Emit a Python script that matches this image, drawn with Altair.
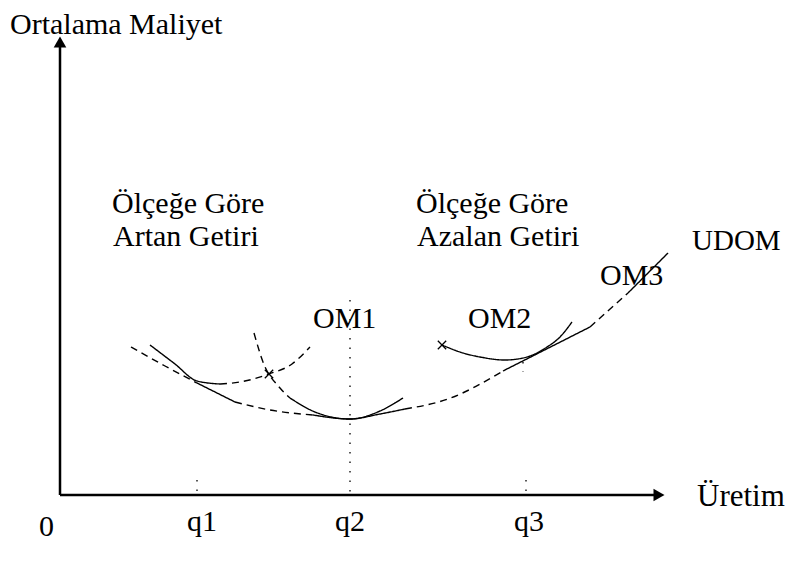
import altair as alt
import pandas as pd

# ---- data (drawing units: x = output position, y = cost position on the sheet, growing downward)
udom_x = [131, 165, 197, 235, 270, 313, 350, 380, 405, 448, 503, 590, 628, 668]
udom_y = [347, 366, 383, 402, 410, 415, 419, 414, 409, 399, 371, 327, 293, 253]
udom_s = ["dash", "dash", "solid", "dash", "dash", "solid", "solid", "solid", "dash", "dash", "solid", "dash", "solid"]

om1a_x = [150, 175, 197, 220, 240, 269, 292, 310]
om1a_y = [345, 364, 381, 384, 382, 374, 364, 347]
om1a_s = ["solid", "solid", "solid", "dash", "dash", "dash", "dash"]

om1b_x = [254, 263, 280, 290, 315, 350, 380, 403]
om1b_y = [333, 362, 388, 398, 412, 419, 411, 398]
om1b_s = ["dash", "dash", "dash", "solid", "solid", "solid", "solid"]

om2_x = [442, 463, 480, 505, 527, 547, 560, 572]
om2_y = [345, 353, 357, 360, 357, 347, 337, 322]
om2_s = ["solid"] * 7

cross_x = [269, 442]
cross_y = [374, 345]

guide_x = [350, 197, 526, 523]
guide_y1 = [300, 480, 480, 362]
guide_y2 = [495, 495, 495, 372]

axis_x0, axis_y0 = 60, 495
axis_xend, axis_ytop = 655, 46

labels = ["Ortalama Maliyet", "Ölçeğe Göre", "Artan Getiri", "Ölçeğe Göre", "Azalan Getiri",
          "UDOM", "OM3", "OM1", "OM2", "Üretim", "0", "q1", "q2", "q3"]
label_x = [10, 112, 113, 416, 417, 692, 600, 313, 468, 697, 39, 187, 335, 514]
label_y = [34, 213, 246, 213, 246, 250, 285, 328, 328, 506, 536, 531, 531, 531]
label_size = [30, 30, 30, 30, 30, 29, 30, 30, 30, 31, 30, 30, 30, 30]

SERIF = "Liberation Serif, Times New Roman, Tinos, DejaVu Serif, serif"

# ---- build tables
rows = []
def add_curve(name, xs, ys, ss):
    run = 0
    for i in range(len(xs) - 1):
        if i > 0 and ss[i] != ss[i - 1]:
            run += 1
        rows.append(dict(seg=f"{name}-{run}", style=ss[i], x=xs[i], y=ys[i], o=i))
        rows.append(dict(seg=f"{name}-{run}", style=ss[i], x=xs[i + 1], y=ys[i + 1], o=i + 1))

add_curve("udom", udom_x, udom_y, udom_s)
add_curve("om1a", om1a_x, om1a_y, om1a_s)
add_curve("om1b", om1b_x, om1b_y, om1b_s)
add_curve("om2", om2_x, om2_y, om2_s)
curves = pd.DataFrame(rows).drop_duplicates(subset=["seg", "o"])

xs = alt.Scale(domain=[8, 788], nice=False, zero=False)
ys = alt.Scale(domain=[8, 556], nice=False, zero=False, reverse=True)
X = lambda f: alt.X(f, type="quantitative", scale=xs, axis=None)
Y = lambda f: alt.Y(f, type="quantitative", scale=ys, axis=None)

curve_layer = alt.Chart(curves).mark_line(color="black", strokeWidth=1.4, interpolate="monotone").encode(
    x=X("x"), y=Y("y"), detail="seg:N", order="o:Q",
    strokeDash=alt.StrokeDash("style:N", scale=alt.Scale(domain=["solid", "dash"], range=[[1, 0], [7, 5]]), legend=None),
)

axes_df = pd.DataFrame(dict(x=[axis_x0, axis_x0], y=[axis_y0, axis_y0], x2=[axis_xend, axis_x0], y2=[axis_y0, axis_ytop]))
axes_layer = alt.Chart(axes_df).mark_rule(color="black", strokeWidth=2.5).encode(
    x=X("x"), y=Y("y"), x2="x2", y2="y2")

arrows_df = pd.DataFrame(dict(x=[axis_x0, axis_xend + 4], y=[axis_ytop - 4, axis_y0], shape=["triangle-up", "triangle-right"]))
arrow_layer = alt.Chart(arrows_df).mark_point(filled=True, color="black", opacity=1, size=160).encode(
    x=X("x"), y=Y("y"), shape=alt.Shape("shape:N", scale=None))

guides_df = pd.DataFrame(dict(x=guide_x, y=guide_y1, y2=guide_y2))
guide_layer = alt.Chart(guides_df).mark_rule(color="black", strokeWidth=1.3, strokeDash=[1.5, 8]).encode(
    x=X("x"), y=Y("y"), y2="y2")

cross_df = pd.DataFrame(dict(x=cross_x, y=cross_y))
cross_layer = alt.Chart(cross_df).mark_point(shape="M-1,-1L1,1M-1,1L1,-1", filled=False, color="black",
                                             strokeWidth=1.3, size=70, opacity=1).encode(x=X("x"), y=Y("y"))

text_df = pd.DataFrame(dict(label=labels, x=label_x, y=label_y, s=label_size))
text_layer = alt.Chart(text_df).mark_text(align="left", baseline="alphabetic", font=SERIF,
                                          color="black").encode(
    x=X("x"), y=Y("y"), text="label:N", size=alt.Size("s:Q", scale=None))

chart = alt.layer(guide_layer, curve_layer, cross_layer, axes_layer, arrow_layer, text_layer).properties(
    width=780, height=548, padding=0, autosize=alt.AutoSizeParams(type="none")
).configure_view(stroke=None)

chart.save("out.html", embed_options={"renderer": "svg", "actions": False})
